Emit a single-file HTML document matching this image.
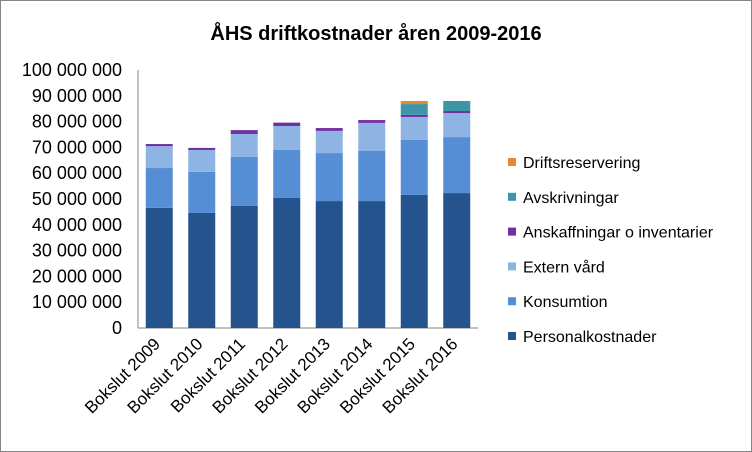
<!DOCTYPE html>
<html><head><meta charset="utf-8"><style>
body{margin:0;background:#fff}
svg{display:block;font-family:"Liberation Sans",sans-serif}
</style></head><body>
<svg id="chart" width="752" height="452" viewBox="0 0 752 452">
<rect x="0.5" y="0.5" width="751" height="451" fill="#fff" stroke="#868686"/>
<text x="376" y="40" text-anchor="middle" font-size="20" font-weight="bold" fill="#000">ÅHS driftkostnader åren 2009-2016</text>
<g id="grid"></g><g id="bars"></g><g id="legend"></g>
</svg>
<script>
const categories=["Bokslut 2009","Bokslut 2010","Bokslut 2011","Bokslut 2012","Bokslut 2013","Bokslut 2014","Bokslut 2015","Bokslut 2016"];
const seriesNames=["Personalkostnader","Konsumtion","Extern vård","Anskaffningar o inventarier","Avskrivningar","Driftsreservering"];
const personal=[46.6,44.6,47.3,50.4,49.2,49.2,51.6,52.3];
const konsumtion=[15.4,15.9,19.1,18.6,18.6,19.4,21.3,21.7];
const externVard=[8.5,8.5,8.8,9.3,8.6,10.9,8.9,9.3];
const anskaffningar=[0.8,0.8,1.5,1.3,1.1,1.1,0.8,0.8];
const avskrivningar=[0,0,0,0,0,0,4.2,3.9];
const driftsreservering=[0,0,0,0,0,0,1.2,0];
const yTicks=["0","10 000 000","20 000 000","30 000 000","40 000 000","50 000 000","60 000 000","70 000 000","80 000 000","90 000 000","100 000 000"];
const colors=["#24538E","#558ED5","#8DB4E2","#7030A0","#3D96A8","#E48A32"];
const series=[personal,konsumtion,externVard,anskaffningar,avskrivningar,driftsreservering];
const NS="http://www.w3.org/2000/svg";
const x0=138,x1=478,yBot=328,yTop=70,yMax=100;
const y=v=>yBot-(v/yMax)*(yBot-yTop);
const pitch=(x1-x0)/categories.length,bw=27;
const xc=i=>x0+pitch*(i+0.5);
function mk(t,a,p){const e=document.createElementNS(NS,t);for(const k in a)e.setAttribute(k,a[k]);p.appendChild(e);return e;}
const grid=document.getElementById('grid'),bars=document.getElementById('bars'),leg=document.getElementById('legend');
yTicks.forEach((t,i)=>{const e=mk('text',{x:122,y:y(i*10)+6,'text-anchor':'end','font-size':18,fill:'#000'},grid);e.textContent=t;

});
const ax=mk('line',{x1:x0,y1:yTop,x2:x0,y2:yBot,stroke:'#868686'},grid);


const bx=mk('line',{x1:x0,y1:yBot,x2:x1,y2:yBot,stroke:'#868686'},grid);


categories.forEach((c,i)=>{let cum=0;
series.forEach((s,j)=>{const v=s[i];if(v>0){const r=mk('rect',{x:xc(i)-bw/2,y:y(cum+v),width:bw,height:y(cum)-y(cum+v),fill:colors[j]},bars);

}cum+=v;});
const cx=xc(i)+2,cy=345;const t=mk('text',{x:cx,y:cy,'text-anchor':'end','font-size':17,fill:'#000',transform:`rotate(-45 ${cx} ${cy})`},grid);t.textContent=c;

});
for(let k=0;k<seriesNames.length;k++){const j=seriesNames.length-1-k;const cy=162+k*34.8;
const g=mk('g',{},leg);


mk('rect',{x:508,y:cy-4,width:8,height:8,fill:colors[j]},g);
const t=mk('text',{x:523,y:cy+6,'font-size':16,fill:'#000'},g);t.textContent=seriesNames[j];}
</script>
</body></html>
